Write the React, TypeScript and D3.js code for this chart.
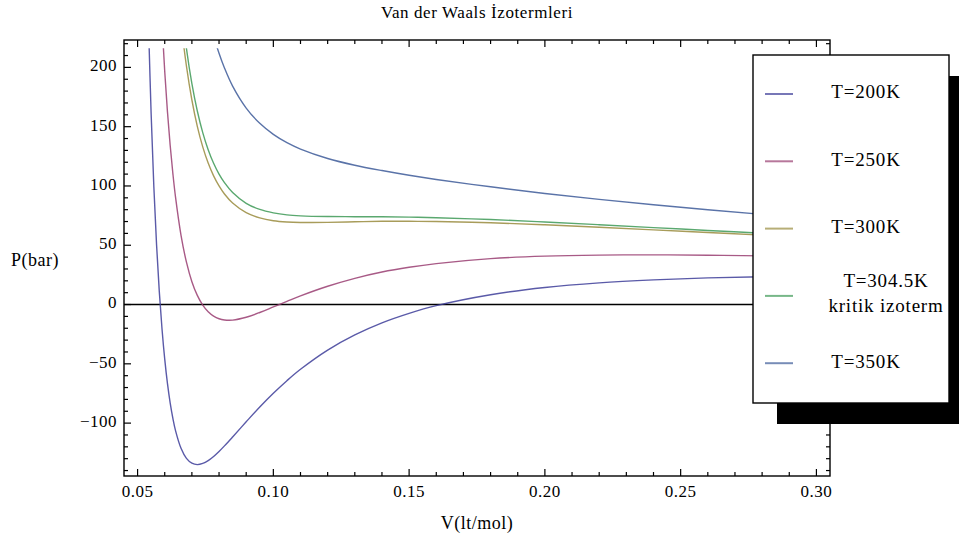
import React from "react";
import * as d3 from "d3";

// molar volume grid (lt/mol) shared by all isotherms
const volumes = [
  0.054, 0.055, 0.056, 0.057, 0.058, 0.059, 0.06, 0.061, 0.062, 0.063, 0.064,
  0.066, 0.068, 0.07, 0.072, 0.074, 0.076, 0.078, 0.08, 0.082, 0.085, 0.09,
  0.095, 0.1, 0.105, 0.11, 0.12, 0.13, 0.14, 0.15, 0.16, 0.18, 0.2, 0.22, 0.24,
  0.26, 0.28, 0.3
];

// pressures (bar), null = above the plot range
const p200 = [
  238.1, 160.4, 98.9, 50.1, 10.9, -20.6, -46.0, -66.5, -82.9, -96.0, -106.5,
  -121.2, -129.7, -133.8, -135.0, -134.0, -131.6, -128.1, -123.9, -119.2, -111.7,
  -98.9, -86.4, -74.8, -64.2, -54.6, -38.4, -25.6, -15.4, -7.4, -0.9, 8.3, 14.4,
  18.3, 20.8, 22.5, 23.5, 24.0
];
const p250 = [
  null, null, null, null, 285.5, 237.0, 196.6, 162.7, 134.3, 110.4, 90.1, 58.4,
  35.7, 19.3, 7.7, -0.5, -6.1, -9.8, -12.0, -13.0, -13.1, -10.7, -6.7, -2.0, 2.7,
  7.3, 15.4, 22.1, 27.4, 31.4, 34.5, 38.7, 40.8, 41.7, 41.9, 41.6, 41.0, 40.2
];
const p300 = [
  null, null, null, null, null, null, null, null, null, null, 286.8, 238.1,
  201.0, 172.5, 150.3, 133.0, 119.3, 108.5, 100.0, 93.2, 85.6, 77.5, 73.1, 70.7,
  69.6, 69.2, 69.3, 69.8, 70.2, 70.2, 70.0, 69.0, 67.3, 65.2, 63.0, 60.8, 58.5,
  56.4
];
const p304 = [
  null, null, null, null, null, null, null, null, null, null, 304.4, 254.2,
  215.9, 186.3, 163.2, 145.0, 130.6, 119.1, 110.0, 102.8, 94.5, 85.4, 80.2, 77.3,
  75.6, 74.8, 74.2, 74.1, 74.0, 73.7, 73.2, 71.7, 69.6, 67.3, 64.9, 62.5, 60.1,
  57.8
];
const p350 = [
  null, null, null, null, null, null, null, null, null, null, null, null, null,
  null, null, null, 244.8, 226.8, 211.9, 199.5, 184.2, 165.7, 152.8, 143.5,
  136.5, 131.1, 123.2, 117.5, 113.0, 109.0, 105.5, 99.3, 93.7, 88.7, 84.1, 79.9,
  76.0, 72.6
];

const seriesLabels = [
  ["T=200K"],
  ["T=250K"],
  ["T=300K"],
  ["T=304.5K", "kritik izoterm"],
  ["T=350K"]
];
const seriesColors = ["#3d3d99", "#993d71", "#998b3d", "#3d9956", "#3d5b99"];

const xTickLabels = [0.05, 0.1, 0.15, 0.2, 0.25, 0.3];
const yTickLabels = [-100, -50, 0, 50, 100, 150, 200];

const W = 959;
const H = 542;
const left = 124;
const right = 830;
const top = 40;
const bottom = 476;
const pMax = 216.2;
const FONT = "'Liberation Serif', 'Times New Roman', serif";

export default function App() {
  const x = d3.scaleLinear().domain([0.045, 0.305]).range([left, right]);
  const y = d3.scaleLinear().domain([-144.6, 223.1]).range([bottom, top]);

  const series = [p200, p250, p300, p304, p350];
  const line = d3
    .line<[number, number | null]>()
    .defined(d => d[1] !== null)
    .x(d => x(d[0]))
    .y(d => y(d[1] as number))
    .curve(d3.curveCatmullRom.alpha(0.5));

  const xTicks = d3.range(5, 31).map(i => ({ v: i / 100, major: i % 5 === 0 }));
  const yTicks = d3.range(-14, 23).map(i => ({ v: i * 10, major: i % 5 === 0 }));
  const fmtX = d3.format(".2f");
  const fmtY = (v: number) => (v < 0 ? "\u2212" + Math.abs(v) : String(v));

  // legend box
  const lg = { x: 753, y: 55, w: 196, h: 348 };
  const rowY = (i: number) => lg.y + 39 + i * 67.3;

  return (
    <svg
      width={W}
      height={H}
      style={{ position: "absolute", left: 0, top: 0, background: "#fff" }}
      fontFamily={FONT}
    >
      <defs>
        <clipPath id="plotClip">
          <rect x={left} y={y(pMax)} width={right - left} height={bottom - y(pMax)} />
        </clipPath>
      </defs>

      <text x={477} y={14} textAnchor="middle" dominantBaseline="middle" fontSize={17} letterSpacing={0.6}>
        Van der Waals İzotermleri
      </text>

      {/* zero axis */}
      <line x1={left} x2={right} y1={y(0)} y2={y(0)} stroke="#000" strokeWidth={1.6} />

      <g clipPath="url(#plotClip)">
        {series.map((s, i) => (
          <path
            key={i}
            d={line(volumes.map((v, j) => [v, s[j]] as [number, number | null])) || ""}
            fill="none"
            stroke={seriesColors[i]}
            strokeWidth={1.4}
            strokeOpacity={0.85}
          />
        ))}
      </g>

      {/* frame */}
      <rect x={left} y={top} width={right - left} height={bottom - top} fill="none" stroke="#000" strokeWidth={1.4} />
      {xTicks.map((t, i) => {
        const len = t.major ? 7 : 4;
        return (
          <g key={"xt" + i} stroke="#000" strokeWidth={1.2}>
            <line x1={x(t.v)} x2={x(t.v)} y1={bottom} y2={bottom - len} />
            <line x1={x(t.v)} x2={x(t.v)} y1={top} y2={top + len} />
          </g>
        );
      })}
      {yTicks.map((t, i) => {
        const len = t.major ? 7 : 4;
        return (
          <g key={"yt" + i} stroke="#000" strokeWidth={1.2}>
            <line x1={left} x2={left + len} y1={y(t.v)} y2={y(t.v)} />
            <line x1={right} x2={right - len} y1={y(t.v)} y2={y(t.v)} />
          </g>
        );
      })}
      {xTickLabels.map(v => (
        <text key={"xl" + v} x={x(v)} y={493} textAnchor="middle" dominantBaseline="middle" fontSize={17} letterSpacing={0.5}>
          {fmtX(v)}
        </text>
      ))}
      {yTickLabels.map(v => (
        <text key={"yl" + v} x={117} y={y(v)} textAnchor="end" dominantBaseline="middle" fontSize={17} letterSpacing={0.5}>
          {fmtY(v)}
        </text>
      ))}

      <text x={477} y={525} textAnchor="middle" dominantBaseline="middle" fontSize={18} letterSpacing={0.5}>
        V(lt/mol)
      </text>
      <text x={35} y={262} textAnchor="middle" dominantBaseline="middle" fontSize={18} letterSpacing={0.5}>
        P(bar)
      </text>

      {/* legend with drop shadow */}
      <rect x={lg.x + 24} y={lg.y + 21} width={lg.w + 20} height={lg.h} fill="#000" />
      <rect x={lg.x} y={lg.y} width={lg.w} height={lg.h} fill="#fff" stroke="#000" strokeWidth={1.4} />
      {seriesLabels.map((lab, i) => {
        const cy = rowY(i);
        const multi = lab.length > 1;
        return (
          <g key={"lg" + i}>
            <line x1={765} x2={793} y1={cy} y2={cy} stroke={seriesColors[i]} strokeWidth={2} strokeOpacity={0.7} />
            {lab.map((t, k) => (
              <text
                key={k}
                x={multi ? 886 : 866}
                y={cy + (multi ? (k - 0.5) * 25 - 1 : 0)}
                textAnchor="middle"
                dominantBaseline="middle"
                fontSize={19}
                letterSpacing={0.8}
              >
                {t}
              </text>
            ))}
          </g>
        );
      })}
    </svg>
  );
}
